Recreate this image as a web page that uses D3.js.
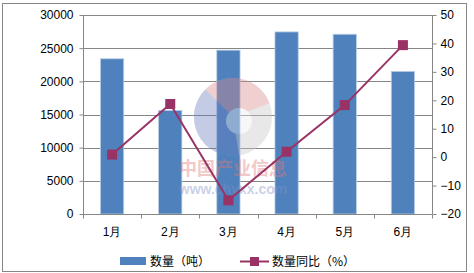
<!DOCTYPE html>
<html>
<head>
<meta charset="utf-8">
<script src="https://cdn.jsdelivr.net/npm/d3@7"></script>
<style>
  body { margin: 0; background: #fff; }
  svg text { font-family: "Liberation Sans", Arial, sans-serif; }
</style>
</head>
<body>
<div id="chart"></div>
<script>
const months = ["1月", "2月", "3月", "4月", "5月", "6月"];
const amount = [23400, 15600, 24700, 27450, 27100, 21500];   // 数量（吨）
const yoy = [0.9, 18.7, -15.2, 1.9, 18.3, 39.4];             // 数量同比（%）
const leftTicks = [0, 5000, 10000, 15000, 20000, 25000, 30000];
const rightTicks = [-20, -10, 0, 10, 20, 30, 40, 50];

const W = 474, H = 273;
const margin = { top: 15, right: 42, bottom: 59, left: 83 };
const width = W - margin.left - margin.right;
const height = H - margin.top - margin.bottom;

const svg = d3.select("#chart").append("svg")
    .attr("width", W)
    .attr("height", H);

// outer frame
svg.append("rect")
    .attr("x", 2.5).attr("y", 3.5)
    .attr("width", 464).attr("height", 268)
    .attr("fill", "#fff")
    .attr("stroke", "#868686");

const g = svg.append("g")
    .attr("transform", "translate(" + margin.left + "," + margin.top + ")");

const x = d3.scaleBand().domain(months).range([0, width]).paddingInner(0.6).paddingOuter(0.3);
const xEdge = d3.scaleLinear().domain([0, months.length]).range([0, width]);
const yL = d3.scaleLinear().domain([0, 30000]).range([height, 0]);
const yR = d3.scaleLinear().domain([-20, 50]).range([height, 0]);

// gridlines
g.append("g").selectAll("line")
    .data(leftTicks.slice(1))
    .enter().append("line")
    .attr("x1", 0).attr("x2", width)
    .attr("y1", d => Math.round(yL(d)) + 0.5)
    .attr("y2", d => Math.round(yL(d)) + 0.5)
    .attr("stroke", "#868686");

// bars
g.append("g").selectAll("rect")
    .data(amount)
    .enter().append("rect")
    .attr("x", (d, i) => x(months[i]))
    .attr("y", d => yL(d))
    .attr("width", x.bandwidth())
    .attr("height", d => height - yL(d))
    .attr("fill", "#4f81bd")
    .attr("stroke", "#b9cde5")
    .attr("stroke-width", 0.8);

// watermark
const wm = g.append("g").attr("opacity", 0.4);
const cx = 233 - margin.left, cy = 117 - margin.top, r = 39;
wm.append("circle").attr("cx", cx).attr("cy", cy).attr("r", r).attr("fill", "#c8c8c8");
wm.append("path")
    .attr("d", d3.arc().innerRadius(0).outerRadius(r).startAngle(-Math.PI / 2).endAngle(Math.PI / 2.6)())
    .attr("transform", "translate(" + cx + "," + cy + ")")
    .attr("fill", "#d98a8a");
wm.append("path")
    .attr("d", d3.arc().innerRadius(0).outerRadius(r).startAngle(Math.PI * 0.95).endAngle(Math.PI * 1.75)())
    .attr("transform", "translate(" + cx + "," + cy + ")")
    .attr("fill", "#6a7fc0");
wm.append("circle").attr("cx", cx + 6).attr("cy", cy + 4).attr("r", 13).attr("fill", "#ececec");
wm.append("text")
    .attr("x", cx).attr("y", 175 - margin.top)
    .attr("text-anchor", "middle")
    .attr("font-size", "18px")
    .attr("font-weight", "bold")
    .attr("fill", "#e07a7a")
    .style("font-family", "'Noto Sans CJK SC', sans-serif")
    .text("中国产业信息");
wm.append("text")
    .attr("x", cx).attr("y", 194 - margin.top)
    .attr("text-anchor", "middle")
    .attr("font-size", "14px")
    .attr("font-weight", "bold")
    .attr("fill", "#7f8fc8")
    .text("www.chyxx.com");

// left axis
const axL = g.append("g")
    .attr("transform", "translate(0.5,0)")
    .call(d3.axisLeft(yL).tickValues(leftTicks).tickSize(4).tickPadding(6).tickFormat(d3.format("d")));
// right axis
const axR = g.append("g")
    .attr("transform", "translate(" + (width + 0.5) + ",0)")
    .call(d3.axisRight(yR).tickValues(rightTicks).tickSize(4).tickPadding(4).tickFormat(d => d < 0 ? "\u2212" + Math.abs(d) : d));
// bottom axis
const axB = g.append("g")
    .attr("transform", "translate(0," + (height + 0.5) + ")")
    .call(d3.axisBottom(x).tickSize(0).tickPadding(13));
axB.selectAll(".tick line").remove();
axB.append("g").selectAll("line")
    .data(d3.range(months.length + 1))
    .enter().append("line")
    .attr("x1", d => Math.round(xEdge(d)) + 0.5)
    .attr("x2", d => Math.round(xEdge(d)) + 0.5)
    .attr("y1", 0).attr("y2", 4)
    .attr("stroke", "#868686");

[axL, axR, axB].forEach(a => {
    a.select(".domain").attr("stroke", "#868686");
    a.selectAll(".tick line").attr("stroke", "#868686");
    a.selectAll("text").attr("fill", "#000").attr("font-size", "12px");
});
axL.select(".domain").attr("d", "M0," + height + "V0");
axR.select(".domain").attr("d", "M0," + height + "V0");
axB.select(".domain").attr("d", "M0,0H" + width);

// line
const cxOf = i => x(months[i]) + x.bandwidth() / 2;
g.append("path")
    .datum(yoy)
    .attr("fill", "none")
    .attr("stroke", "#993366")
    .attr("stroke-width", 2)
    .attr("d", d3.line().x((d, i) => cxOf(i)).y(d => yR(d)));

g.append("g").selectAll("rect")
    .data(yoy)
    .enter().append("rect")
    .attr("x", (d, i) => cxOf(i) - 5)
    .attr("y", d => yR(d) - 5)
    .attr("width", 10).attr("height", 10)
    .attr("fill", "#993366");

// legend
const lg = svg.append("g").attr("transform", "translate(0,261)");
lg.append("rect").attr("x", 120).attr("y", -4).attr("width", 26).attr("height", 8).attr("fill", "#4f81bd");
lg.append("text").attr("x", 150).attr("y", 5).attr("font-size", "12px").text("数量（吨）")
    .style("font-family", "'Noto Sans CJK SC', sans-serif");
lg.append("line").attr("x1", 240).attr("x2", 269).attr("y1", 0.5).attr("y2", 0.5)
    .attr("stroke", "#993366").attr("stroke-width", 2);
lg.append("rect").attr("x", 250).attr("y", -4).attr("width", 9).attr("height", 9).attr("fill", "#993366");
lg.append("text").attr("x", 272).attr("y", 5).attr("font-size", "12px").text("数量同比（%）")
    .style("font-family", "'Noto Sans CJK SC', sans-serif");
</script>
</body>
</html>
